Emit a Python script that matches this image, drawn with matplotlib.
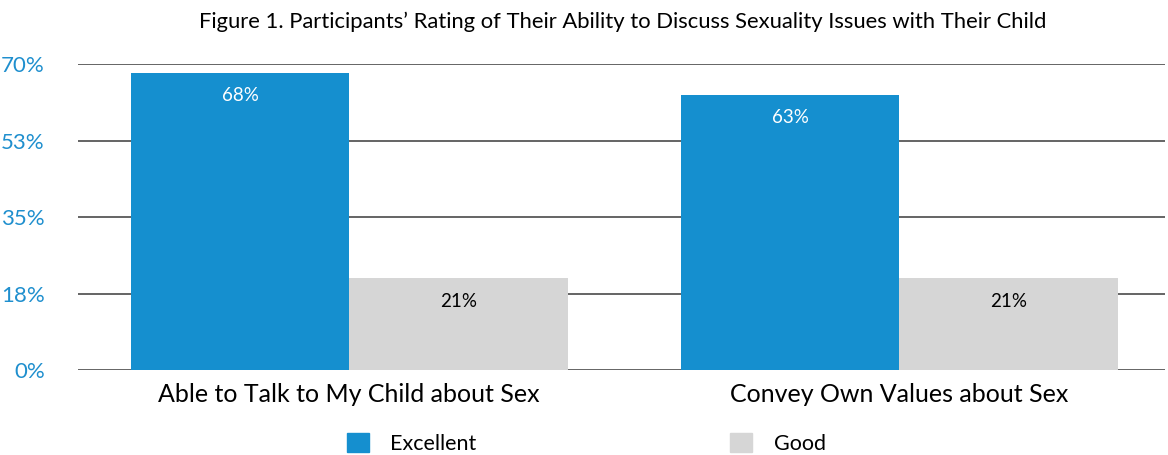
import numpy as np
import matplotlib.pyplot as plt
from matplotlib.patches import Patch

plt.rcParams['font.family'] = ['Lato', 'DejaVu Sans']

# Data
categories = ['Able to Talk to My Child about Sex', 'Convey Own Values about Sex']
excellent = [68, 63]
good = [21, 21]
series_names = ['Excellent', 'Good']
yticks = [0, 17.5, 35, 52.5, 70]
ytick_labels = ['0%', '18%', '35%', '53%', '70%']

BLUE = '#158fcf'
GRAY = '#d6d6d6'
TICK_BLUE = '#1f8fce'

fig = plt.figure(figsize=(11.68, 4.55), dpi=100)
ax = fig.add_axes([0.0668, 0.1868, 0.9306, 0.6725])

x = np.arange(len(categories))
w = 0.397
bars_e = ax.bar(x - w / 2, excellent, w, color=BLUE, zorder=2)
bars_g = ax.bar(x + w / 2, good, w, color=GRAY, zorder=2)

# value labels just under bar tops
for bars, vals, col in [(bars_e, excellent, 'white'), (bars_g, good, 'black')]:
    for b, v in zip(bars, vals):
        ax.annotate(f'{v}%', (b.get_x() + b.get_width() / 2, v),
                    xytext=(0, -23), textcoords='offset pixels',
                    ha='center', va='center', color=col, fontsize=13.5)

ax.set_xlim(-0.493, 1.483)
ax.set_ylim(0, 70)
ax.set_yticks(yticks)
ax.set_yticklabels(ytick_labels, color=TICK_BLUE, fontsize=16)
ax.yaxis.grid(True, color='#4a4a4a', linewidth=1.2, zorder=0)
ax.set_axisbelow(True)
ax.tick_params(axis='y', length=0, pad=24)
ax.set_xticks(x)
ax.set_xticklabels(categories, fontsize=18)
ax.tick_params(axis='x', length=0, pad=9)
for s in ax.spines.values():
    s.set_visible(False)

fig.text(0.533, 0.952, "Figure 1. Participants\u2019 Rating of Their Ability to Discuss Sexuality Issues with Their Child",
         ha='center', va='center', fontsize=15.8)

handles = [Patch(color=BLUE), Patch(color=GRAY)]
fig.legend(handles, series_names, loc='center', bbox_to_anchor=(0.502, 0.026),
           ncol=2, frameon=False, fontsize=15.5, handlelength=1.0, handleheight=1.0,
           handletextpad=1.0, columnspacing=11.8)

fig.savefig('out.png', dpi=100)
